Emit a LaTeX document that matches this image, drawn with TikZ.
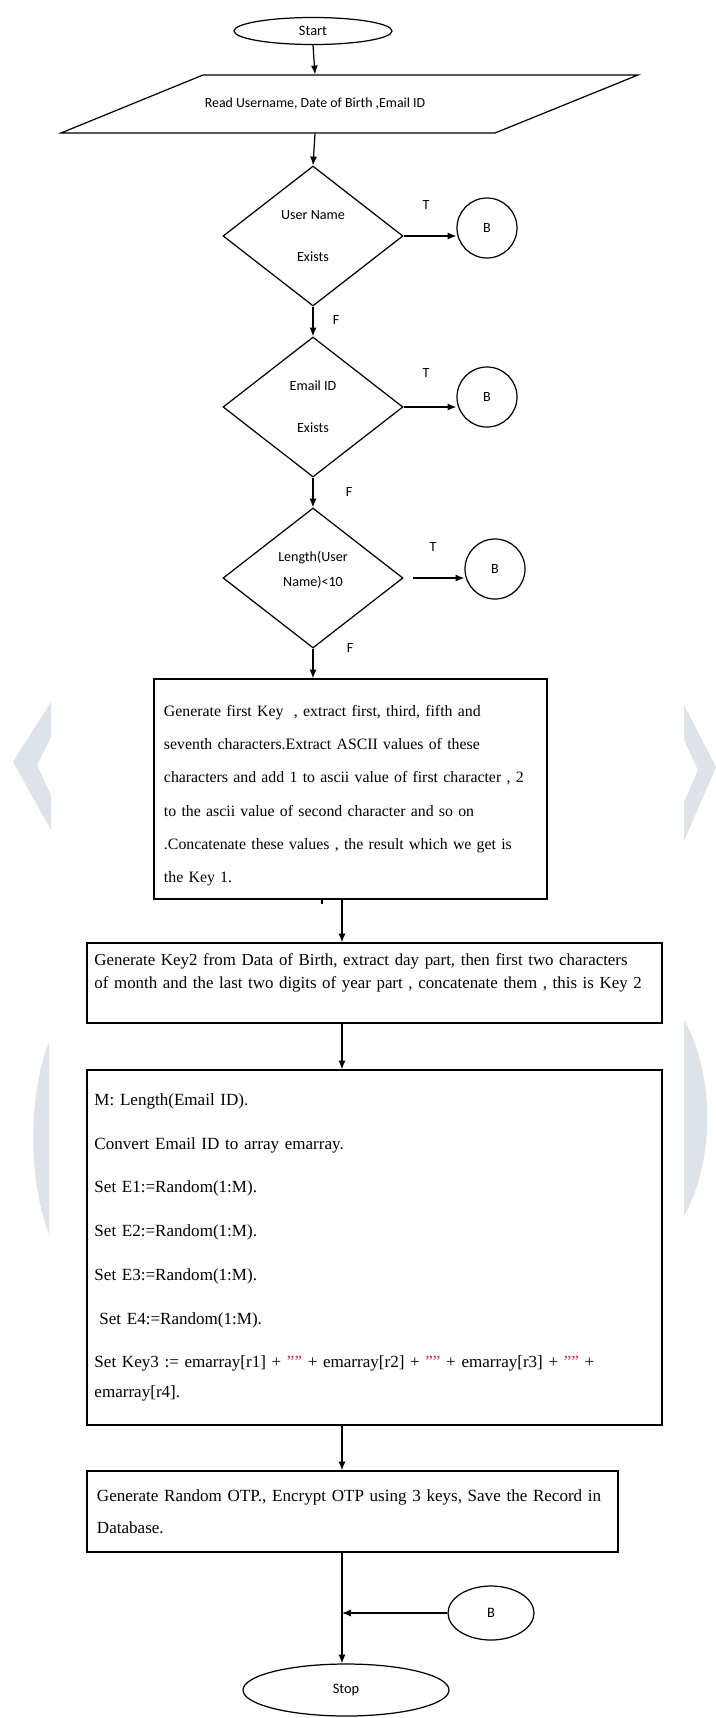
\documentclass[tikz,border=0pt]{standalone}
\usepackage{fontspec}
\setmainfont{Liberation Serif}
\newfontfamily\calibri{Carlito}
\usepackage{xcolor}
\usetikzlibrary{arrows.meta,positioning,calc,shapes.geometric}
\definecolor{wmark}{RGB}{221,227,233}
\definecolor{quotered}{RGB}{205,45,70}
\newcommand{\qq}{\textcolor{quotered}{\symbol{34}\symbol{34}}}

\begin{document}
\begin{tikzpicture}[x=0.2mm, y=-0.2mm, >={Latex[length=5pt,width=4pt]}, line width=0.7pt,
  term/.style={ellipse, draw, inner sep=0pt, font={\calibri\fontsize{8.2}{10}\selectfont}},
  decision/.style={diamond, draw, inner sep=0pt, minimum width=36mm, minimum height=28mm,
    align=center, font={\calibri\fontsize{8}{10}\selectfont}},
  conn/.style={circle, draw, inner sep=0pt, minimum size=12mm, font={\calibri\fontsize{8}{10}\selectfont}},
  procbox/.style={rectangle, draw, align=left},
  tf/.style={inner sep=0pt, font={\calibri\fontsize{8}{10}\selectfont}}]
  \path[use as bounding box, fill=white] (0,0) rectangle (715,1718);

  \fill[wmark] (51,702) -- (13,762) -- (51,830) -- (51,795) -- (37,765) -- (51,737) -- cycle;
  \fill[wmark] (684,705) -- (716,767) -- (684,841) -- (684,802) -- (698,770) -- (684,740) -- cycle;
  \fill[wmark] (49,1042) .. controls (28,1095) and (28,1180) .. (49,1234) -- cycle;
  \fill[wmark] (684,1020) .. controls (715,1075) and (715,1160) .. (684,1216) -- cycle;

  \node[term, minimum width=31.6mm, minimum height=5.4mm] (start) at (313,31) {Start};
  \node[inner sep=0pt, minimum height=11.6mm, font={\calibri\fontsize{7.9}{10}\selectfont}] (read) at (315,104)
      {Read Username, Date of Birth ,Email ID};
  \draw (203,75) -- (638,75) -- (495,133) -- (61,133) -- cycle;

  \node[decision] (d1) at (313,236) {User Name\\[13.8pt]Exists};
  \node[decision] (d2) at (313,407) {Email ID\\[13.8pt]Exists};
  \node[decision] (d3) at (313,578) {Length(User\\[4.2pt]Name)<10\\\mbox{}};

  \node[conn] (b1) at (487,228) {B};
  \node[conn] (b2) at (487,397) {B};
  \node[conn] (b3) at (495,569) {B};
  \node[tf] (t1) at (426,205) {T};
  \node[tf] (t2) at (426,373) {T};
  \node[tf] (t3) at (433,547) {T};
  \node[tf] (f1) at (336,320) {F};
  \node[tf] (f2) at (349,492) {F};
  \node[tf] (f3) at (350,648) {F};

  \node[procbox, inner xsep=2mm, text width=74.6mm, minimum height=44mm,
        font={\fontsize{9}{18.9}\selectfont}] (key1) at (350.5,789)
      {\mbox{}\\[-5pt]
       Generate first Key~ , extract first, third, fifth and\\
       seventh characters.Extract ASCII values of these\\
       characters and add 1 to ascii value of first character , 2\\
       to the ascii value of second character and so on\\
       .Concatenate these values , the result which we get is\\
       the Key 1.};
  \node[procbox, inner xsep=1.5mm, text width=112mm, minimum height=16mm,
        font={\fontsize{9.6}{13.6}\selectfont}] (key2) at (374.5,983)
      {Generate Key2 from Data of Birth, extract day part, then first two characters\\
       of month and the last two digits of year part , concatenate them , this is Key 2\\
       \mbox{}};
  \node[procbox, inner xsep=1.5mm, text width=112mm, minimum height=71mm,
        font={\fontsize{9.7}{17}\selectfont}] (key3) at (374.5,1247.5)
      {M: Length(Email ID).\\[7.9pt]
       Convert Email ID to array emarray.\\[7.9pt]
       Set E1:=Random(1:M).\\[7.9pt]
       Set E2:=Random(1:M).\\[7.9pt]
       Set E3:=Random(1:M).\\[7.9pt]
       \hspace*{2.8pt}Set E4:=Random(1:M).\\[7.9pt]
       Set Key3 := emarray[r1] + \qq{} + emarray[r2] + \qq{} + emarray[r3] + \qq{} +\\
       emarray[r4].};
  \node[procbox, inner xsep=2mm, text width=102.2mm, minimum height=16.2mm,
        font={\fontsize{9.7}{18.1}\selectfont}] (otp) at (352.5,1511.5)
      {Generate Random OTP., Encrypt OTP using 3 keys, Save the Record in\\
       Database.};

  \node[term, minimum width=17.2mm, minimum height=10.8mm] (b4) at (491,1613) {B};
  \node[term, minimum width=41.2mm, minimum height=10.4mm] (stop) at (346,1690) {Stop};

  \coordinate (ax) at (342,0);
  \coordinate (stub) at (322,0);

  \draw[->] (start.south) -- (read.north);
  \draw[->] (read.south) -- (d1.north);
  \draw[->] (d1.south) -- (d2.north);
  \draw[->] (d2.south) -- (d3.north);
  \draw[->] (d3.south) -- (d3.south |- key1.north);
  \draw[->] (d1.east) -- (d1.east -| b1.west);
  \draw[->] (d2.east) -- (d2.east -| b2.west);
  \draw[->] ([xshift=1.8mm]d3.east) -- (d3.east -| b3.west);
  \draw (key1.south -| stub) -- ++(0,4);
  \draw[->] (key1.south -| ax) -- (key2.north -| ax);
  \draw[->] (key2.south -| ax) -- (key3.north -| ax);
  \draw[->] (key3.south -| ax) -- (otp.north -| ax);
  \draw[->] (otp.south -| ax) -- (stop.north -| ax);
  \draw[->] (b4.west) -- (b4.west -| ax);
\end{tikzpicture}
\end{document}
